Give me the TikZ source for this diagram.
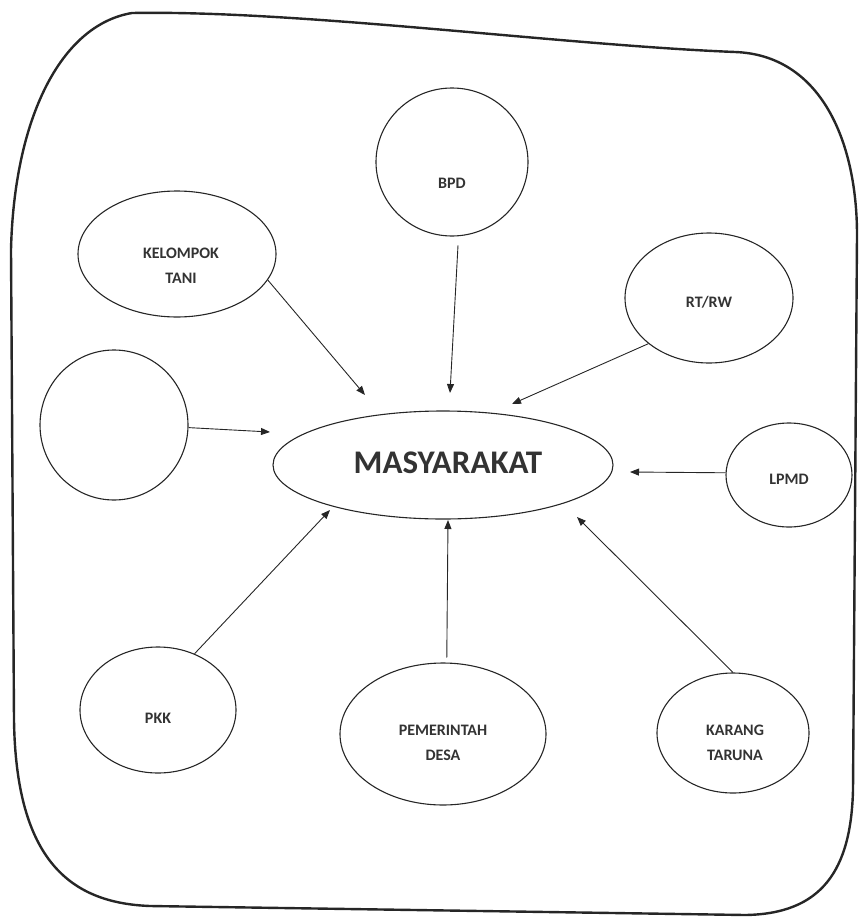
\documentclass[tikz,border=0pt]{standalone}
\usepackage{fontspec}
\setmainfont{Carlito}
\usetikzlibrary{shapes.geometric,arrows.meta}
\tikzset{
  org/.style n args={2}{ellipse, draw=black!85, line width=1.1pt, inner sep=0pt,
     minimum width=#1pt, minimum height=#2pt},
  lbl/.style={font=\fontsize{16}{25}\selectfont\bfseries, text=black!80, align=center},
  arr/.style={draw=black!85, line width=0.9pt, -{Triangle[length=9pt,width=7pt]}},
  frame/.style={draw=black!85, line width=2.4pt, line join=round}
}
\begin{document}
\begin{tikzpicture}[x=1pt,y=-1pt]
\useasboundingbox (0,0) rectangle (863,921);
% outer frame
\draw[frame] (132,13) .. controls (60,25) and (14,120) .. (11,250)
  -- (14,720) .. controls (16,860) and (70,903) .. (150,906)
  -- (745,915) .. controls (822,914) and (851,870) .. (853,790)
  -- (857,235) .. controls (857,140) and (820,55) .. (735,52)
  .. controls (560,45) and (300,10) .. (132,13) -- cycle;
% nodes
\node[org={340}{108}, label={[lbl,font=\fontsize{33}{33}\selectfont\bfseries,xshift=5pt,yshift=2pt]center:MASYARAKAT}] (mas) at (443,465) {};
\node[org={152}{148}, label={[lbl,yshift=-21pt]center:BPD}] (bpd) at (452,162) {};
\node[org={198}{126}, label={[lbl,xshift=4pt,yshift=-12pt]center:KELOMPOK\\TANI}] (kt) at (177,254) {};
\node[org={168}{130}, label={[lbl,yshift=-4pt]center:RT/RW}] (rt) at (709,298) {};
\node[org={148}{150}] (emp) at (114,425) {};
\node[org={126}{104}, label={[lbl,yshift=-4pt]center:LPMD}] (lpmd) at (789,475) {};
\node[org={156}{126}, label={[lbl,yshift=-8pt]center:PKK}] (pkk) at (158,710) {};
\node[org={206}{142}, label={[lbl,yshift=-9pt]center:PEMERINTAH\\DESA}] (pem) at (443,734) {};
\node[org={152}{120}, label={[lbl,xshift=2pt,yshift=-10pt]center:KARANG\\TARUNA}] (kar) at (733,733) {};
% arrow ends
\coordinate (ekt) at (365,395);
\coordinate (ebpd) at (450,393);
\coordinate (ert) at (512,404);
\coordinate (eemp) at (270,432);
\coordinate (elpmd) at (630,472);
\coordinate (epkk) at (330,510);
\coordinate (epem) at (448,520);
\coordinate (ekar) at (577,517);
% arrows
\draw[arr] (kt.-16) -- (ekt);
\draw[arr, shorten <=9pt] (bpd.-85) -- (ebpd);
\draw[arr] (rt.-143) -- (ert);
\draw[arr] (emp.-2) -- (eemp);
\draw[arr] (lpmd.178) -- (elpmd);
\draw[arr] (pkk.57) -- (epkk);
\draw[arr, shorten <=5pt] (pem.87) -- (epem);
\draw[arr] (kar.90) -- (ekar);
\end{tikzpicture}
\end{document}
